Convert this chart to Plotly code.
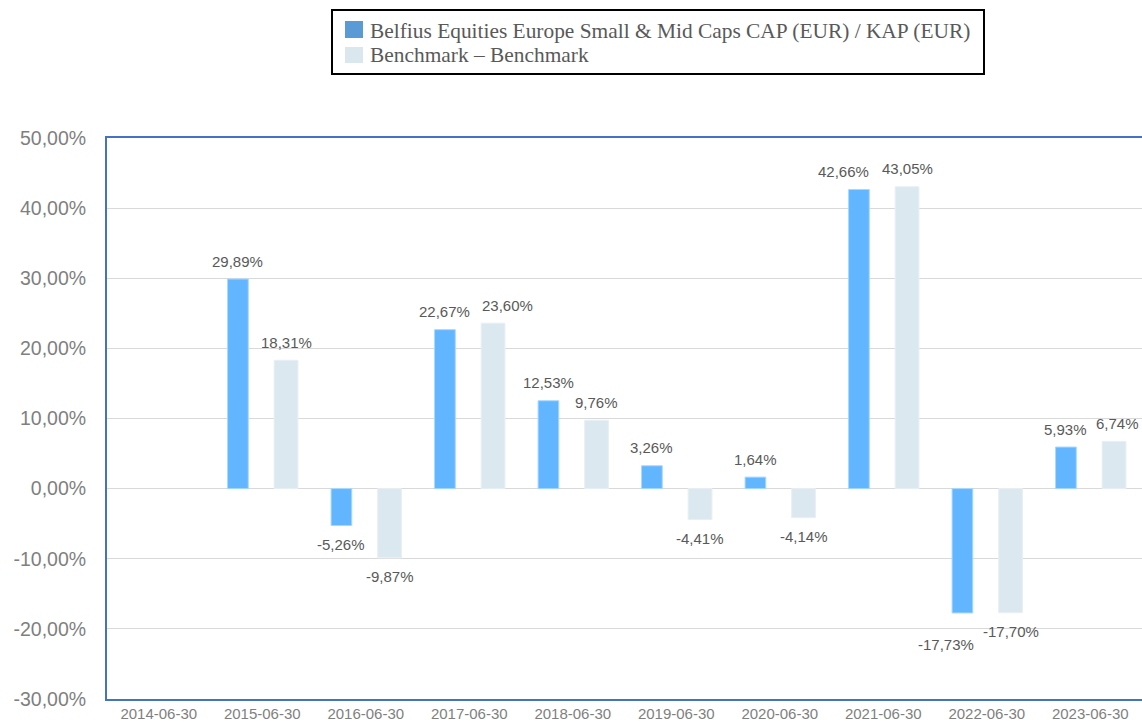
import plotly.graph_objects as go

categories = ["2014-06-30", "2015-06-30", "2016-06-30", "2017-06-30", "2018-06-30",
              "2019-06-30", "2020-06-30", "2021-06-30", "2022-06-30", "2023-06-30"]
fund_values = [None, 29.89, -5.26, 22.67, 12.53, 3.26, 1.64, 42.66, -17.73, 5.93]
bench_values = [None, 18.31, -9.87, 23.60, 9.76, -4.41, -4.14, 43.05, -17.70, 6.74]
fund_name = "Belfius Equities Europe Small & Mid Caps CAP (EUR) / KAP (EUR)"
bench_name = "Benchmark \u2013 Benchmark"
y_ticks = [-30, -20, -10, 0, 10, 20, 30, 40, 50]

FUND_COLOR, FUND_LEGEND = "#62B5FF", "#5B9BD5"
BENCH_COLOR, BENCH_LEGEND = "#DCE8EF", "#DAE7EE"

# label nudges (pixels) to avoid overlaps, as in the reference
nudges = {("f", 7): (-15, 0), ("b", 3): (14, 0), ("f", 8): (-16, 13), ("b", 9): (3, 0)}


def fmt(v):
    return ("%.2f" % v).replace(".", ",") + "%"


FUND_OFF, FUND_W = -0.335, 0.2
BENCH_OFF, BENCH_W = 0.115, 0.23
CAT_PX = 103.5

# plot area in page pixels
PL, PR, PT, PB = 107, 1142, 138, 699
PW, PH = PR - PL, PB - PT


def px(x):
    return (x - PL) / PW


def py(y):
    return (PB - y) / PH


fig = go.Figure()
fig.add_trace(go.Bar(x=categories, y=fund_values, name=fund_name, showlegend=False,
                     offset=FUND_OFF, width=FUND_W,
                     marker=dict(color=FUND_COLOR, line=dict(color="#A6D8FF", width=1))))
fig.add_trace(go.Bar(x=categories, y=bench_values, name=bench_name, showlegend=False,
                     offset=BENCH_OFF, width=BENCH_W,
                     marker=dict(color=BENCH_COLOR, line=dict(color="#E8F0F5", width=1))))

annotations = []
for key, vals, off, w in (("f", fund_values, FUND_OFF, FUND_W), ("b", bench_values, BENCH_OFF, BENCH_W)):
    for i, (c, v) in enumerate(zip(categories, vals)):
        if v is None:
            continue
        dx, dy = nudges.get((key, i), (0, 0))
        xs = (off + w / 2) * CAT_PX + dx
        ys = 18 + dy if v >= 0 else -(19 + dy)
        annotations.append(dict(x=c, y=v, xref="x", yref="y", text=fmt(v), showarrow=False,
                                xshift=xs, yshift=ys, yanchor="middle",
                                font=dict(family="Liberation Sans, Arial", size=15, color="#595959")))

# legend (drawn as box + swatches + texts)
legend_font = dict(family="Liberation Serif, Times New Roman", size=21.4, color="#595959")
shapes = [
    dict(type="rect", xref="paper", yref="paper", x0=px(332), x1=px(984), y0=py(74), y1=py(10),
         line=dict(color="#000000", width=2), fillcolor="white", layer="above"),
    dict(type="rect", xref="paper", yref="paper", x0=px(345), x1=px(363), y0=py(38), y1=py(21),
         line=dict(width=0), fillcolor=FUND_LEGEND, layer="above"),
    dict(type="rect", xref="paper", yref="paper", x0=px(345), x1=px(363), y0=py(63), y1=py(47),
         line=dict(width=0), fillcolor=BENCH_LEGEND, layer="above"),
]
annotations.append(dict(x=px(368), y=py(31), xref="paper", yref="paper", text=fund_name,
                        showarrow=False, xanchor="left", yanchor="middle", font=legend_font))
annotations.append(dict(x=px(368), y=py(55), xref="paper", yref="paper", text=bench_name,
                        showarrow=False, xanchor="left", yanchor="middle", font=legend_font))

fig.update_layout(
    width=1142, height=725,
    margin=dict(l=PL, r=0, t=PT, b=725 - PB),
    paper_bgcolor="white", plot_bgcolor="white",
    barmode="overlay",
    showlegend=False,
    annotations=annotations,
    shapes=shapes,
    xaxis=dict(type="category", range=[-0.5, 9.5], showgrid=False,
               showline=True, linecolor="#4472C4", linewidth=2, mirror=True,
               ticks="", tickfont=dict(family="Liberation Sans, Arial", size=15, color="#7F7F7F")),
    yaxis=dict(range=[-30, 50], tickvals=y_ticks, ticktext=[fmt(t) for t in y_ticks],
               showgrid=True, gridcolor="#D9D9D9", gridwidth=1,
               zeroline=True, zerolinecolor="#D9D9D9", zerolinewidth=1,
               showline=True, linecolor="#4472C4", linewidth=2,
               ticks="", ticklabelstandoff=15,
               tickfont=dict(family="Liberation Sans, Arial", size=19.5, color="#7F7F7F")),
)

fig.write_html("out.html", config={"displayModeBar": False},
               post_script="document.body.style.margin='0';document.body.style.overflow='hidden';")
